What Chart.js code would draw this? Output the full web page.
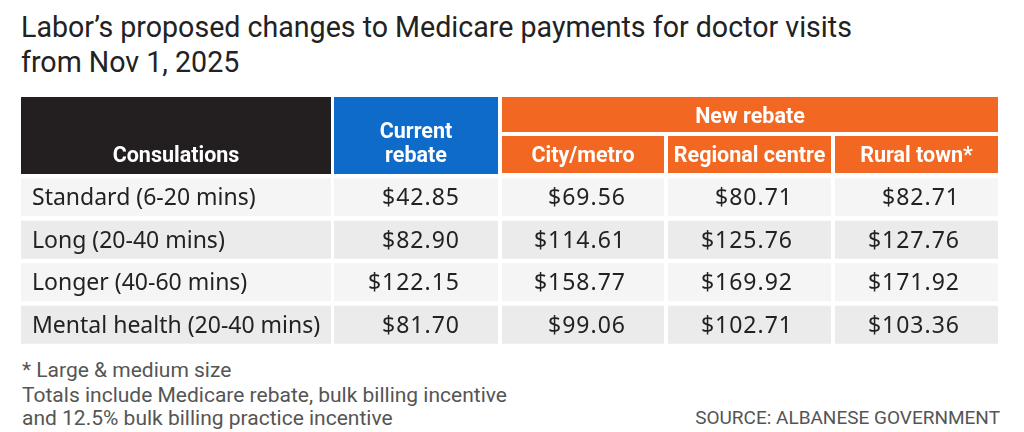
<!DOCTYPE html>
<html>
<head>
<meta charset="utf-8">
<script src="https://cdn.jsdelivr.net/npm/chart.js@4/dist/chart.umd.min.js"></script>
<style>
  html, body { margin: 0; padding: 0; background: #fff; }
  body { width: 1024px; height: 432px; position: relative; overflow: hidden; font-family: Roboto, "Noto Sans", sans-serif; }
  #titulo { position: absolute; left: 21px; top: 10px; font-size: 28.6px; line-height: 35px; color: #222; }
  #caixa { position: absolute; left: 0; top: 90px; width: 1024px; height: 260px; }
  .nota { position: absolute; left: 22px; font-size: 21px; line-height: 24px; color: #555; white-space: nowrap; }
  #fonte { position: absolute; right: 24px; top: 406px; font-size: 19px; line-height: 24px; color: #555; }
</style>
</head>
<body>
<div id="titulo">Labor’s proposed changes to Medicare payments for doctor visits<br>from Nov 1, 2025</div>
<div id="caixa"><canvas id="grafico"></canvas></div>
<div class="nota" style="top:358px">* Large &amp; medium size</div>
<div class="nota" style="top:383px">Totals include Medicare rebate, bulk billing incentive</div>
<div class="nota" style="top:406px">and 12.5% bulk billing practice incentive</div>
<div id="fonte">SOURCE: ALBANESE GOVERNMENT</div>
<script>
var consultas = ['Standard (6-20 mins)', 'Long (20-40 mins)', 'Longer (40-60 mins)', 'Mental health (20-40 mins)'];
var atual = [42.85, 82.90, 122.15, 81.70];
var cidade = [69.56, 114.61, 158.77, 99.06];
var regional = [80.71, 125.76, 169.92, 102.71];
var rural = [82.71, 127.76, 171.92, 103.36];
var cabecalho = ['Consulations', 'Current\nrebate', 'City/metro', 'Regional centre', 'Rural town*'];
var grupoNovo = 'New rebate';

// colunas da tabela (em pixels da pagina)
var colunas = [[21, 331], [334, 498], [502, 664], [668, 831], [835, 998]];
var listras = ['#f5f5f5', '#ebebeb', '#f5f5f5', '#ebebeb'];
var corCab = ['#231f20', '#0f6bc9', '#f26722', '#f26722', '#f26722'];

var valores = [null, atual, cidade, regional, rural];

var ds = [];
for (var c = 0; c < colunas.length; c++) {
    var d = [];
    for (var i = 0; i < consultas.length; i++) {
        d.push([colunas[c][0], colunas[c][1]]);
    }
    ds.push({
        label: cabecalho[c],
        data: d,
        backgroundColor: listras,
        grouped: false,
        categoryPercentage: 1,
        barPercentage: 38 / 42.5,
        borderWidth: 0
    });
}

var textos = {
    id: 'textos',
    afterDatasetsDraw: function(chart) {
        var ctx = chart.ctx;
        var sx = chart.scales.x;
        var topo = chart.chartArea.top;
        ctx.save();
        // cabecalho
        for (var c = 0; c < colunas.length; c++) {
            var x0 = sx.getPixelForValue(colunas[c][0]);
            var x1 = sx.getPixelForValue(colunas[c][1]);
            ctx.fillStyle = corCab[c];
            if (c < 2) {
                ctx.fillRect(x0, topo - 79, x1 - x0, 77);
            } else {
                ctx.fillRect(x0, topo - 40, x1 - x0, 37);
            }
        }
        var n0 = sx.getPixelForValue(colunas[2][0]);
        var n1 = sx.getPixelForValue(colunas[4][1]);
        ctx.fillStyle = corCab[2];
        ctx.fillRect(n0, topo - 79, n1 - n0, 35);

        ctx.fillStyle = '#fff';
        ctx.font = 'bold 21.5px Roboto';
        ctx.textAlign = 'center';
        ctx.textBaseline = 'alphabetic';
        for (var c = 0; c < colunas.length; c++) {
            var cx = (sx.getPixelForValue(colunas[c][0]) + sx.getPixelForValue(colunas[c][1])) / 2;
            var linhas = cabecalho[c].split('\n');
            if (linhas.length == 2) {
                ctx.fillText(linhas[0], cx, topo - 38);
                ctx.fillText(linhas[1], cx, topo - 14);
            } else {
                ctx.fillText(linhas[0], cx, topo - 14);
            }
        }
        ctx.fillText(grupoNovo, (n0 + n1) / 2, topo - 53);

        // celulas
        ctx.fillStyle = '#222';
        ctx.font = '23px "Noto Sans"';
        for (var c = 0; c < colunas.length; c++) {
            var meta = chart.getDatasetMeta(c);
            meta.data.forEach(function(bar, i) {
                var p = bar.getProps(['x', 'y', 'base'], true);
                if (c == 0) {
                    ctx.textAlign = 'left';
                    ctx.letterSpacing = '0px';
                    ctx.fillText(consultas[i], p.base + 11, p.y + 8);
                } else {
                    ctx.textAlign = 'right';
                    ctx.letterSpacing = '1px';
                    ctx.fillText('$' + valores[c][i].toFixed(2), p.x - 38, p.y + 8);
                }
            });
        }
        ctx.restore();
    }
};

var grafico = new Chart('grafico', {
    type: 'bar',
    data: {
        labels: consultas,
        datasets: ds
    },
    options: {
        indexAxis: 'y',
        responsive: true,
        maintainAspectRatio: false,
        animation: false,
        layout: { padding: { left: 21, right: 26, top: 86, bottom: 4 } },
        scales: {
            x: { type: 'linear', min: 21, max: 998, display: false },
            y: { display: false }
        },
        plugins: {
            legend: { display: false },
            tooltip: { enabled: false }
        }
    },
    plugins: [textos]
});
</script>
</body>
</html>
